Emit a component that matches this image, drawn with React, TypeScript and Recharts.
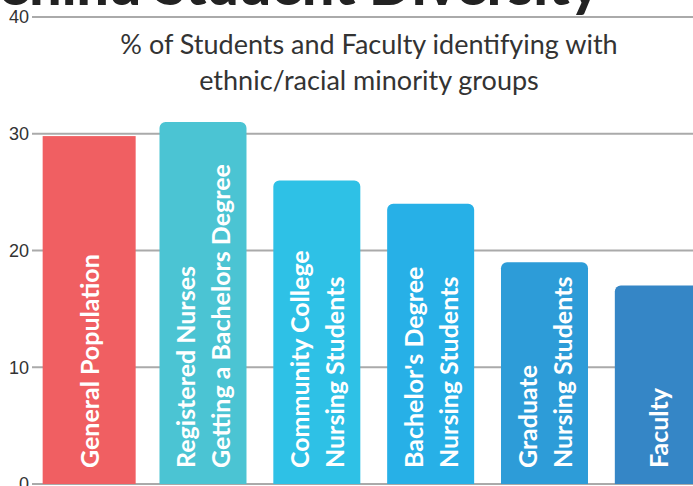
import { BarChart, Bar, XAxis, YAxis, CartesianGrid, Rectangle } from "recharts";

const categories = [
  "General Population",
  "Registered Nurses\nGetting a Bachelors Degree",
  "Community College\nNursing Students",
  "Bachelor's Degree\nNursing Students",
  "Graduate\nNursing Students",
  "Faculty",
];
const minorityShare = [29.8, 31, 26, 24, 19, 17];
const barColors = ["#F05F62", "#4BC4D3", "#2EC1E6", "#27B0E7", "#2D9CD8", "#3586C6"];
const yTicks = [0, 10, 20, 30, 40];

const chartData = categories.map((name, i) => ({ name, value: minorityShare[i], color: barColors[i], flat: i === 0 }));

const BarWithLabel = (props: any) => {
  const { x, y, width, height, payload } = props;
  const lines: string[] = payload.name.split("\n");
  const cx = x + width / 2;
  const base = y + height - 16;
  return (
    <g>
      {payload.flat ? (
        <rect x={x - 3} y={y} width={width + 6} height={height} fill={payload.color} />
      ) : (
        <Rectangle x={x} y={y} width={width} height={height} radius={[6, 6, 0, 0]} fill={payload.color} />
      )}
      <text
        x={cx}
        y={base}
        transform={`rotate(-90 ${cx} ${base})`}
        fill="#fff"
        fontFamily="Lato"
        fontWeight={700}
        fontSize={25}
      >
        {lines.map((line, i) => (
          <tspan key={i} x={cx} y={base + (i - (lines.length - 1) / 2) * 35} dominantBaseline="central">
            {line}
          </tspan>
        ))}
      </text>
    </g>
  );
};

const App = () => {
  return (
    <div style={{ position: "absolute", left: 0, top: 0, width: 693, height: 486, overflow: "hidden", background: "#fff" }}>
      <BarChart width={715} height={486} data={chartData} margin={{ top: 17, right: 0, bottom: 2, left: 0 }} barCategoryGap="12%">
        <CartesianGrid vertical={false} stroke="#aaa" strokeWidth={2} />
        <XAxis dataKey="name" hide />
        <YAxis
          width={32}
          domain={[0, 40]}
          ticks={yTicks}
          interval={0}
          axisLine={false}
          tickLine={false}
          tickSize={0}
          tickMargin={3}
          tick={{ fill: "#333", fontSize: 18, fontFamily: "Liberation Sans" }}
        />
        <Bar dataKey="value" shape={BarWithLabel} isAnimationActive={false} />
      </BarChart>
      <svg width={693} height={486} style={{ position: "absolute", left: 0, top: 0, pointerEvents: "none" }}>
        <text x={600} y={5} textAnchor="end" fill="#222" fontFamily="Lato" fontWeight={900} fontSize={57}>
          Faculty Lags Behind Student Diversity
        </text>
        <text x={369} y={54} textAnchor="middle" fill="#333" fontFamily="Lato" fontSize={27}>
          % of Students and Faculty identifying with
        </text>
        <text x={369} y={90} textAnchor="middle" fill="#333" fontFamily="Lato" fontSize={27}>
          ethnic/racial minority groups
        </text>
      </svg>
    </div>
  );
};

export default App;
